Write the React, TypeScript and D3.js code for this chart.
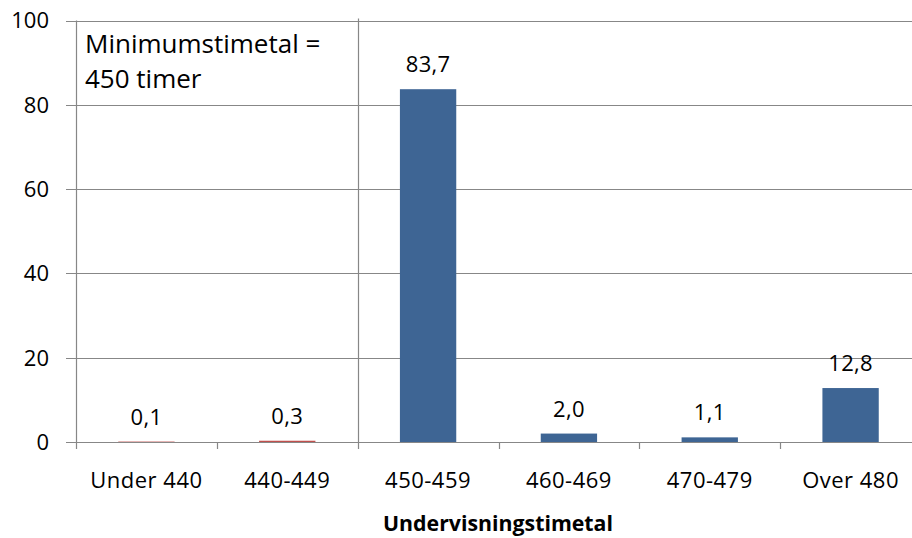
import React from "react";
import * as d3 from "d3";

const categories = ["Under 440", "440-449", "450-459", "460-469", "470-479", "Over 480"];
const values = [0.1, 0.3, 83.7, 2.0, 1.1, 12.8];
const belowMinimum = [true, true, false, false, false, false];
const yTicks = [0, 20, 40, 60, 80, 100];
const xTitle = "Undervisningstimetal";
const noteLines = ["Minimumstimetal =", "450 timer"];

const W = 912;
const H = 538;
const FONT = "'Open Sans', sans-serif";

export default function App() {
  const left = 76;
  const right = 921;
  const top = 20.5;
  const bottom = 442;

  const y = d3.scaleLinear().domain([0, 100]).range([bottom, top]);
  const slot = d3.scaleBand<string>().domain(categories).range([left, right]).padding(0);
  const bar = d3
    .scaleBand<string>()
    .domain(categories)
    .range([left, right])
    .paddingInner(0.6)
    .paddingOuter(0.3);

  const grid = "#878787";
  const fmt = (v: number) => d3.format(".1f")(v).replace(".", ",");
  const sepX = slot(categories[2])!;
  const fs = 22;

  return (
    <svg
      width={W}
      height={H}
      style={{ position: "absolute", left: 0, top: 0, background: "#fff" }}
      fontFamily={FONT}
    >
      {yTicks.map((t) => (
        <g key={t}>
          <line x1={66} x2={right} y1={Math.round(y(t)) + 0.5} y2={Math.round(y(t)) + 0.5} stroke={grid} strokeWidth={1.2} />
          <text x={49} y={y(t)} dy="0.36em" textAnchor="end" fontSize={fs} fill="#000">
            {t}
          </text>
        </g>
      ))}
      <line x1={left + 0.5} x2={left + 0.5} y1={top} y2={bottom + 7} stroke={grid} strokeWidth={1.2} />
      {categories.map((c) => (
        <line
          key={"t" + c}
          x1={Math.round(slot(c)! + slot.bandwidth()) + 0.5}
          x2={Math.round(slot(c)! + slot.bandwidth()) + 0.5}
          y1={bottom}
          y2={bottom + 7}
          stroke={grid}
          strokeWidth={1.2}
        />
      ))}
      <line x1={Math.round(sepX) + 0.5} x2={Math.round(sepX) + 0.5} y1={top - 2} y2={bottom} stroke={grid} strokeWidth={1.2} />
      {categories.map((c, i) => (
        <rect
          key={"b" + c}
          x={bar(c)!}
          width={bar.bandwidth()}
          y={y(values[i])}
          height={bottom - y(values[i])}
          fill={belowMinimum[i] ? "#C0504D" : "#3E6594"}
        />
      ))}
      {categories.map((c, i) => (
        <text
          key={"v" + c}
          x={bar(c)! + bar.bandwidth() / 2}
          y={y(values[i]) - 17}
          textAnchor="middle"
          fontSize={fs}
          letterSpacing={0.3}
          fill="#000"
        >
          {fmt(values[i])}
        </text>
      ))}
      {categories.map((c) => (
        <text
          key={"l" + c}
          x={slot(c)! + slot.bandwidth() / 2}
          y={488}
          textAnchor="middle"
          fontSize={fs}
          letterSpacing={0.5}
          fill="#000"
        >
          {c}
        </text>
      ))}
      <text x={498} y={531} textAnchor="middle" fontSize={21.3} fontWeight="bold" fill="#000">
        {xTitle}
      </text>
      {noteLines.map((l, i) => (
        <text key={l} x={85} y={53 + i * 35} fontSize={26} fill="#000">
          {l}
        </text>
      ))}
    </svg>
  );
}
